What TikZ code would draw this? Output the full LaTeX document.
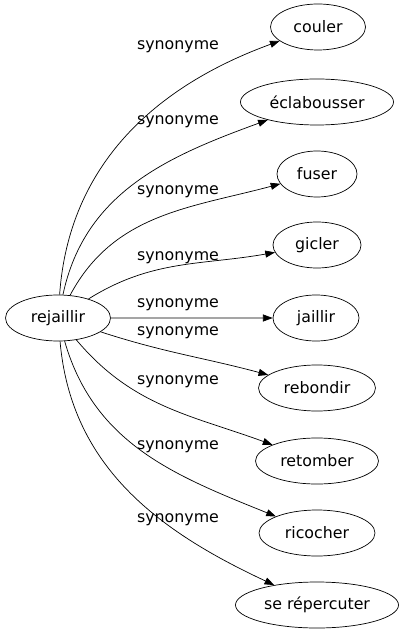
\documentclass[tikz,border=0pt]{standalone}
\usepackage{fontspec}
\setmainfont{DejaVu Sans}
\usetikzlibrary{shapes.geometric,arrows.meta}

\begin{document}
\begin{tikzpicture}[scale=0.2]
\tikzstyle{every node}+=[inner sep=0pt, font=\fontsize{9}{10}\selectfont]
\tikzstyle{word}=[draw=black, ellipse, minimum height=0.92cm]
\tikzstyle{syn}=[black, -{Triangle[length=5.5pt,width=4pt]}]
\useasboundingbox (0,0) rectangle (40.4,-63.5);
\node [word, minimum width=2.1cm] (rejaillir) at (5.8,-31.8) {rejaillir};
\node [word, minimum width=1.9cm] (couler) at (31.8,-2.7) {couler};
\node [word, minimum width=3.06cm] (eclabousser) at (31.7,-10.2) {éclabousser};
\node [word, minimum width=1.6cm] (fuser) at (31.7,-17.4) {fuser};
\node [word, minimum width=1.76cm] (gicler) at (31.7,-24.5) {gicler};
\node [word, minimum width=1.72cm] (jaillir) at (31.6,-31.8) {jaillir};
\node [word, minimum width=2.34cm] (rebondir) at (31.7,-38.8) {rebondir};
\node [word, minimum width=2.46cm] (retomber) at (31.7,-46.1) {retomber};
\node [word, minimum width=2.32cm] (ricocher) at (31.7,-53.3) {ricocher};
\node [word, minimum width=3.26cm] (repercuter) at (31.7,-60.5) {se répercuter};
\draw [syn] (rejaillir) to [out=86, in=200] (couler);
\draw (17.8,-4.7) node {synonyme};
\draw [syn] (rejaillir) to [out=78, in=200] (eclabousser);
\draw (17.8,-12.2) node {synonyme};
\draw [syn] (rejaillir) to [out=62, in=195] (fuser);
\draw (17.8,-19.2) node {synonyme};
\draw [syn] (rejaillir) to [out=32, in=190] (gicler);
\draw (17.8,-25.8) node {synonyme};
\draw [syn] (rejaillir) -- (jaillir);
\draw (17.8,-30.5) node {synonyme};
\draw [syn] (rejaillir) to [out=-18, in=165] (rebondir);
\draw (17.8,-33.3) node {synonyme};
\draw [syn] (rejaillir) to [out=-50, in=160] (retomber);
\draw (17.8,-38.2) node {synonyme};
\draw [syn] (rejaillir) to [out=-74, in=158] (ricocher);
\draw (17.8,-44.7) node {synonyme};
\draw [syn] (rejaillir) to [out=-85, in=155] (repercuter);
\draw (17.8,-52.0) node {synonyme};
\end{tikzpicture}
\end{document}
